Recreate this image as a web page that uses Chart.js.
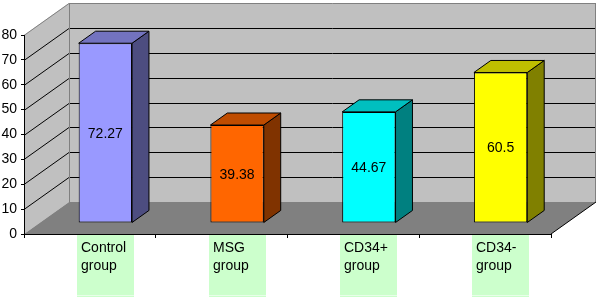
<!DOCTYPE html>
<html>
<head>
<meta charset="utf-8">
<script src="https://cdn.jsdelivr.net/npm/chart.js@4"></script>
<style>
html,body{margin:0;padding:0;background:#fff;}
#wrap{width:600px;height:297px;}
</style>
</head>
<body>
<div id="wrap"><canvas id="c" width="600" height="297"></canvas></div>
<script>
const categories = ['Control group', 'MSG group', 'CD34+ group', 'CD34- group'];
const labelLines = [['Control', 'group'], ['MSG', 'group'], ['CD34+', 'group'], ['CD34-', 'group']];
const values = [72.27, 39.38, 44.67, 60.5];
const frontColors = ['#9999ff', '#ff6600', '#00ffff', '#ffff00'];
const topColors = ['#7373bf', '#bf4c00', '#00bfbf', '#bfbf00'];
const sideColors = ['#4d4d80', '#803300', '#008080', '#808000'];
const yMin = 0, yMax = 80, yStep = 10;

const DX = 45, DY = -32;          // full depth offset of the 3D box
const BF = 0.344, BB = 0.72;      // bar front / back depth fractions
const FONT = '14px "Liberation Sans", Arial, sans-serif';

function line(ctx, x1, y1, x2, y2, color) {
  ctx.beginPath(); ctx.moveTo(x1, y1); ctx.lineTo(x2, y2);
  ctx.strokeStyle = color; ctx.lineWidth = 1; ctx.stroke();
}
function poly(ctx, pts, fill, stroke) {
  ctx.beginPath(); ctx.moveTo(pts[0][0], pts[0][1]);
  for (let i = 1; i < pts.length; i++) ctx.lineTo(pts[i][0], pts[i][1]);
  ctx.closePath();
  if (fill) { ctx.fillStyle = fill; ctx.fill(); }
  if (stroke) { ctx.strokeStyle = stroke; ctx.lineWidth = 1; ctx.stroke(); }
}

const box3d = {
  id: 'box3d',
  beforeDraw(chart) {
    const { ctx, chartArea: a, scales: { y } } = chart;
    const L = a.left, R = a.right, T = a.top, B = a.bottom;
    ctx.save();
    // back wall
    poly(ctx, [[L + DX, T + DY], [R + DX, T + DY], [R + DX, B + DY], [L + DX, B + DY]], '#c0c0c0');
    // side wall
    poly(ctx, [[L, T], [L + DX, T + DY], [L + DX, B + DY], [L, B]], '#c0c0c0');
    // floor
    poly(ctx, [[L, B], [R, B], [R + DX, B + DY], [L + DX, B + DY]], '#808080');
    // gridlines
    for (let v = yMin + yStep; v < yMax; v += yStep) {
      const py = Math.round(y.getPixelForValue(v)) + 0.5;
      line(ctx, L, py, L + DX, py + DY, '#000');
      line(ctx, L + DX, py + DY, R + DX, py + DY, '#000');
    }
    // wall borders
    const tY = Math.round(T) + 0.5;
    line(ctx, L, tY, L + DX, tY + DY, '#808080');
    line(ctx, L + DX, tY + DY, R + DX, tY + DY, '#808080');
    line(ctx, L + DX + 0.5, tY + DY, L + DX + 0.5, B + DY, '#808080');
    line(ctx, R + DX - 0.5, tY + DY, R + DX - 0.5, B + DY, '#808080');
    // floor right edge
    line(ctx, R, B, R + DX, B + DY, '#000');
    ctx.restore();
  },
  beforeDatasetsDraw(chart) {
    chart.ctx.save();
    chart.ctx.translate(DX * BF, DY * BF);
  },
  afterDatasetsDraw(chart) {
    const ctx = chart.ctx;
    ctx.restore();
    const meta = chart.getDatasetMeta(0);
    const ox = DX * BF, oy = DY * BF;
    const ddx = DX * (BB - BF), ddy = DY * (BB - BF);
    ctx.save();
    meta.data.forEach((el, i) => {
      const x0 = el.x - el.width / 2 + ox, x1 = el.x + el.width / 2 + ox;
      const yt = el.y + oy, yb = el.base + oy;
      poly(ctx, [[x1, yt], [x1 + ddx, yt + ddy], [x1 + ddx, yb + ddy], [x1, yb]], sideColors[i], '#000');
      poly(ctx, [[x0, yt], [x1, yt], [x1 + ddx, yt + ddy], [x0 + ddx, yt + ddy]], topColors[i], '#000');
      ctx.fillStyle = '#000';
      ctx.font = FONT;
      ctx.textAlign = 'center';
      ctx.textBaseline = 'middle';
      ctx.fillText(String(values[i]), (x0 + x1) / 2, (yt + yb) / 2 + 1);
    });
    ctx.restore();
  },
  afterDraw(chart) {
    const { ctx, scales: { x }, chartArea: a } = chart;
    const ox = DX * BF;
    ctx.save();
    categories.forEach((c, i) => {
      const cx = x.getPixelForValue(i) + ox;
      const bx = Math.round(cx - 28.5);
      ctx.fillStyle = '#ccffcc';
      ctx.fillRect(bx, Math.round(a.bottom) + 1, 57, 297 - a.bottom);
      ctx.fillStyle = '#e8ffe8';
      ctx.fillRect(bx, 295, 57, 1);
      ctx.fillStyle = '#000';
      ctx.font = FONT;
      ctx.textAlign = 'left';
      ctx.textBaseline = 'alphabetic';
      ctx.fillText(labelLines[i][0], bx + 4, 252);
      ctx.fillText(labelLines[i][1], bx + 4, 269.5);
    });
    ctx.restore();
  }
};

new Chart(document.getElementById('c'), {
  type: 'bar',
  data: {
    labels: categories,
    datasets: [{
      data: values,
      backgroundColor: frontColors,
      borderColor: '#000',
      borderWidth: 1,
      borderSkipped: false,
      categoryPercentage: 1,
      barPercentage: 0.405
    }]
  },
  options: {
    responsive: false,
    animation: false,
    devicePixelRatio: 1,
    layout: { padding: { top: 35, right: 49, bottom: 0, left: 0 } },
    plugins: { legend: { display: false }, tooltip: { enabled: false } },
    scales: {
      x: {
        offset: true,
        ticks: { display: false },
        grid: { drawOnChartArea: false, drawTicks: true, tickLength: 4, color: '#000', offset: true },
        border: { color: '#000', width: 1 },
        afterFit(s) { s.height = 63; }
      },
      y: {
        min: yMin, max: yMax,
        ticks: { stepSize: yStep, color: '#000', padding: 4, font: { family: '"Liberation Sans", Arial, sans-serif', size: 14 } },
        grid: { drawOnChartArea: false, drawTicks: true, tickLength: 3, color: '#000' },
        border: { color: '#000', width: 1 },
        afterFit(s) { s.width = 24; }
      }
    }
  },
  plugins: [box3d]
});
</script>
</body>
</html>
